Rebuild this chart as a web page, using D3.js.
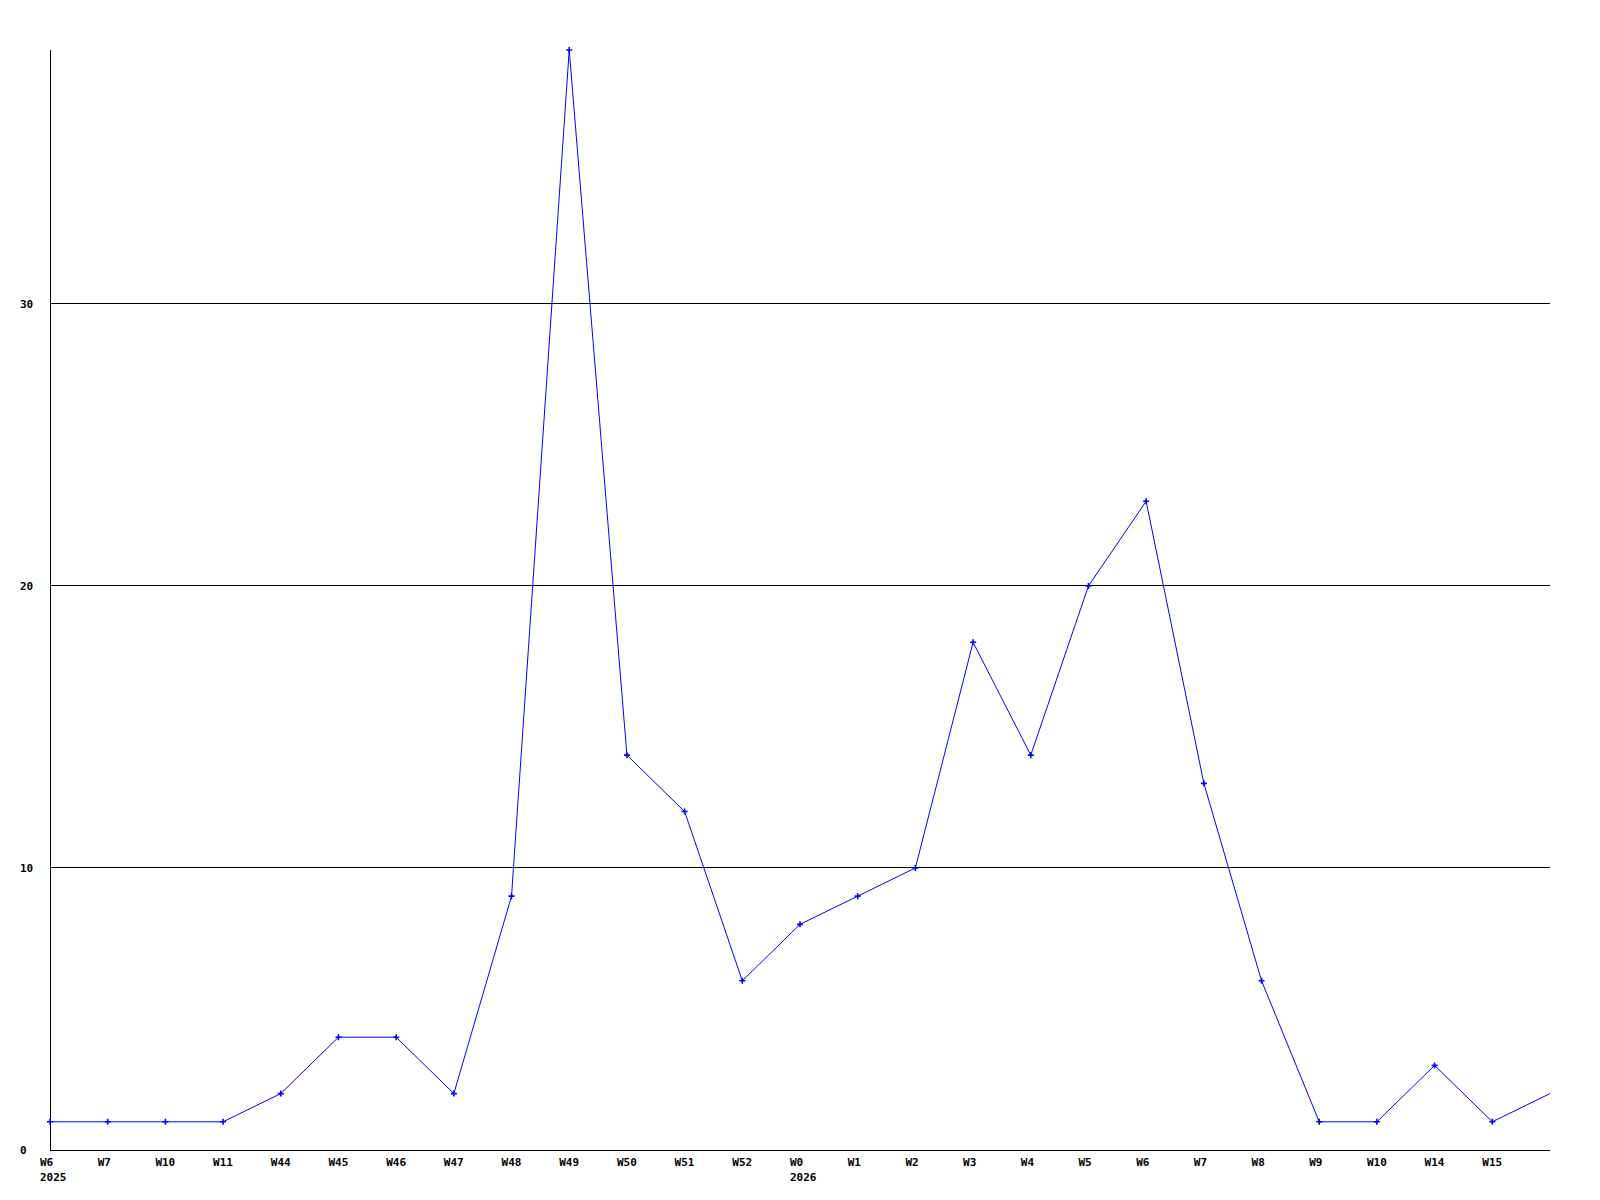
<!DOCTYPE html>
<html>
<head>
<meta charset="utf-8">
<script src="https://cdn.jsdelivr.net/npm/d3@7"></script>
<style>
    body { margin: 0; background: #fff; }
    svg text { font-family: "DejaVu Sans Mono", monospace; font-weight: bold; font-size: 11px; fill: #000; }
</style>
</head>
<body>
<div id="chart"></div>
<script>
// Etiquetas de semana (el último punto no lleva etiqueta)
const weeks = ['W6', 'W7', 'W10', 'W11', 'W44', 'W45', 'W46', 'W47', 'W48', 'W49', 'W50', 'W51', 'W52',
    'W0', 'W1', 'W2', 'W3', 'W4', 'W5', 'W6', 'W7', 'W8', 'W9', 'W10', 'W14', 'W15', ''];
const values = [1, 1, 1, 1, 2, 4, 4, 2, 9, 39, 14, 12, 6, 8, 9, 10, 18, 14, 20, 23, 13, 6, 1, 1, 3, 1, 2];
// Año debajo de la primera semana de cada año
const years = [{ index: 0, label: '2025' }, { index: 13, label: '2026' }];
const yTicks = [0, 10, 20, 30];

const width = 1600, height = 1200;
const plot = { left: 50, right: 1550, top: 50, bottom: 1150 };

const svg = d3.select('#chart').append('svg')
    .attr('width', width)
    .attr('height', height);

const x = d3.scaleLinear().domain([0, values.length - 1]).range([plot.left, plot.right]);
const y = d3.scaleLinear().domain([0, d3.max(values)]).range([plot.bottom, plot.top]);

// Rejilla horizontal
svg.append('g')
    .selectAll('line')
    .data(yTicks.filter(t => t > 0))
    .enter().append('line')
    .attr('x1', plot.left).attr('x2', plot.right)
    .attr('y1', d => Math.floor(y(d)) + 0.5).attr('y2', d => Math.floor(y(d)) + 0.5)
    .attr('stroke', '#000')
    .attr('shape-rendering', 'crispEdges');

// Ejes
svg.append('line')
    .attr('x1', plot.left + 0.5).attr('x2', plot.left + 0.5)
    .attr('y1', plot.top).attr('y2', plot.bottom)
    .attr('stroke', '#000').attr('shape-rendering', 'crispEdges');
svg.append('line')
    .attr('x1', plot.left).attr('x2', plot.right)
    .attr('y1', plot.bottom + 0.5).attr('y2', plot.bottom + 0.5)
    .attr('stroke', '#000').attr('shape-rendering', 'crispEdges');

// Etiquetas Y
svg.append('g')
    .selectAll('text')
    .data(yTicks)
    .enter().append('text')
    .attr('x', 20)
    .attr('y', d => y(d))
    .attr('dy', '0.35em')
    .text(d => d);

// Etiquetas X
svg.append('g')
    .selectAll('text')
    .data(weeks)
    .enter().append('text')
    .attr('x', (d, i) => x(i) - 10)
    .attr('y', plot.bottom + 16)
    .text(d => d);

svg.append('g')
    .selectAll('text')
    .data(years)
    .enter().append('text')
    .attr('x', d => x(d.index) - 10)
    .attr('y', plot.bottom + 31)
    .text(d => d.label);

// Línea
const line = d3.line()
    .x((d, i) => x(i))
    .y(d => y(d));

svg.append('path')
    .datum(values)
    .attr('d', line)
    .attr('fill', 'none')
    .attr('stroke', '#0000ff')
    .attr('stroke-width', 1);

// Marcadores (sin marcador en el último punto)
svg.append('g')
    .selectAll('path')
    .data(values.slice(0, -1))
    .enter().append('path')
    .attr('d', (d, i) => {
        const cx = x(i), cy = y(d);
        return `M${cx - 3},${cy}H${cx + 3}M${cx},${cy - 3}V${cy + 3}`;
    })
    .attr('stroke', '#0000ff')
    .attr('stroke-width', 1.6);
</script>
</body>
</html>
